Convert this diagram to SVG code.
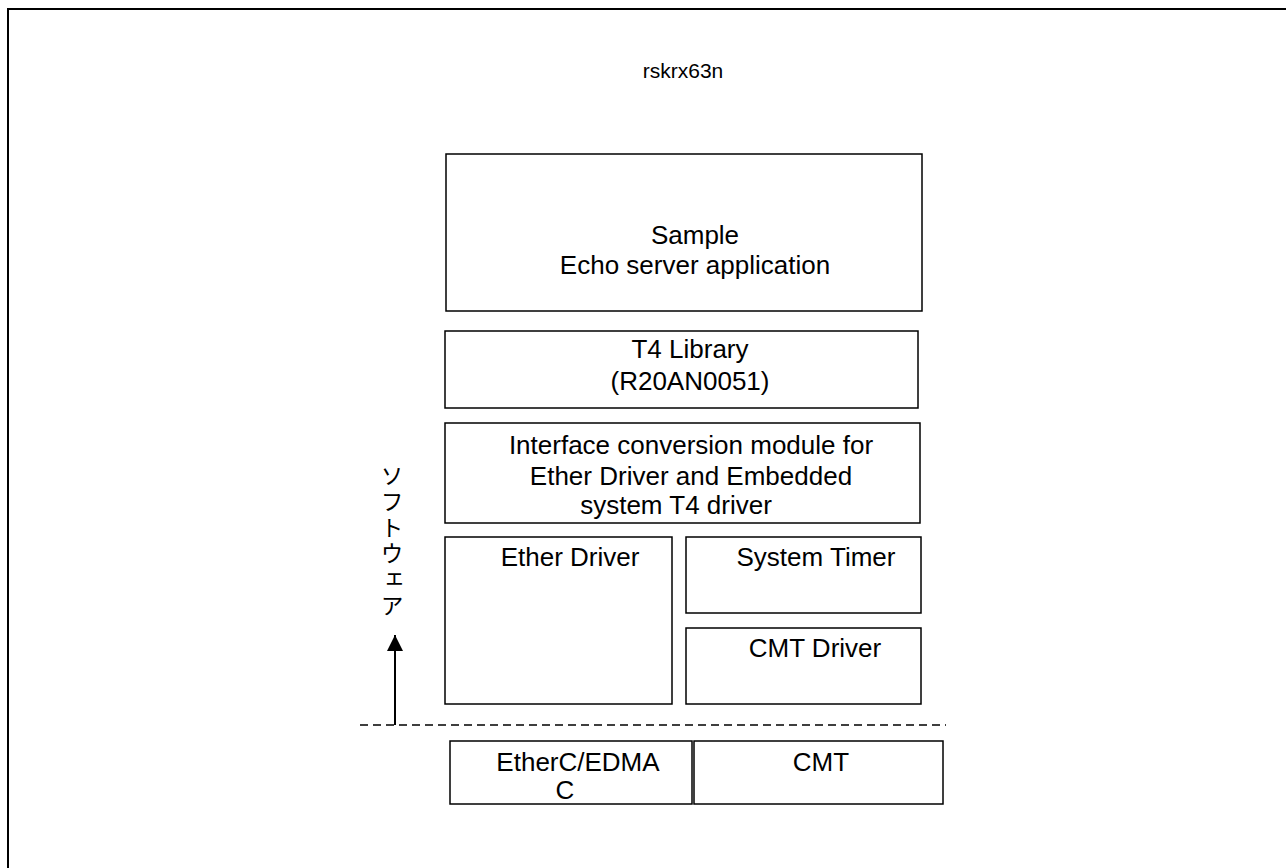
<svg xmlns="http://www.w3.org/2000/svg" width="1286" height="868" viewBox="0 0 1286 868">
  <defs>
    <style>
      .box { fill: #ffffff; stroke: #000000; stroke-width: 1.5; }
      .lbl { font-family: "Liberation Sans", Arial, sans-serif; font-size: 26px; fill: #000000; text-anchor: middle; }
      .title { font-family: "Liberation Sans", Arial, sans-serif; font-size: 21px; fill: #000000; text-anchor: middle; }
      .jp { font-family: "Noto Sans CJK JP", sans-serif; font-size: 23px; fill: #000000; }
    </style>
    <marker id="head" viewBox="0 0 10 10" refX="10" refY="5" markerWidth="16" markerHeight="16" markerUnits="userSpaceOnUse" orient="auto">
      <path d="M0,0 L10,5 L0,10 Z" fill="#000000"/>
    </marker>
  </defs>

  <rect width="1286" height="868" fill="#ffffff"/>
  <!-- page frame -->
  <rect x="8" y="9" width="1290" height="870" fill="none" stroke="#000000" stroke-width="2"/>

  <text class="title" x="683" y="78">rskrx63n</text>

  <g id="sample-app">
    <rect class="box" x="446" y="154" width="476" height="157"/>
    <text class="lbl" x="695" y="244">Sample</text>
    <text class="lbl" x="695" y="274">Echo server application</text>
  </g>

  <g id="t4-library">
    <rect class="box" x="445" y="331" width="473" height="77"/>
    <text class="lbl" x="690" y="358">T4 Library</text>
    <text class="lbl" x="690" y="390">(R20AN0051)</text>
  </g>

  <g id="interface-module">
    <rect class="box" x="445" y="423" width="475" height="100"/>
    <text class="lbl" x="691" y="454">Interface conversion module for</text>
    <text class="lbl" x="691" y="485">Ether Driver and Embedded</text>
    <text class="lbl" x="676" y="514">system T4 driver</text>
  </g>

  <g id="ether-driver">
    <rect class="box" x="445" y="537" width="227" height="167"/>
    <text class="lbl" x="570" y="566">Ether Driver</text>
  </g>

  <g id="system-timer">
    <rect class="box" x="686" y="537" width="235" height="76"/>
    <text class="lbl" x="816" y="566">System Timer</text>
  </g>

  <g id="cmt-driver">
    <rect class="box" x="686" y="628" width="235" height="76"/>
    <text class="lbl" x="815" y="657">CMT Driver</text>
  </g>

  <g id="etherc-edmac">
    <rect class="box" x="450" y="741" width="242" height="63"/>
    <text class="lbl" x="578" y="771">EtherC/EDMA</text>
    <text class="lbl" x="565" y="799">C</text>
  </g>

  <g id="cmt">
    <rect class="box" x="694" y="741" width="249" height="63"/>
    <text class="lbl" x="821" y="771">CMT</text>
  </g>

  <g id="software-label">
    <text class="jp" x="392" y="464" style="writing-mode: vertical-rl; letter-spacing: 3px;">ソフトウェア</text>
  </g>

  <g id="connectors">
    <line x1="360" y1="725" x2="946" y2="725" stroke="#000000" stroke-width="1.5" stroke-dasharray="8,5"/>
    <line x1="395" y1="725" x2="395" y2="635" stroke="#000000" stroke-width="2" marker-end="url(#head)"/>
  </g>
</svg>
